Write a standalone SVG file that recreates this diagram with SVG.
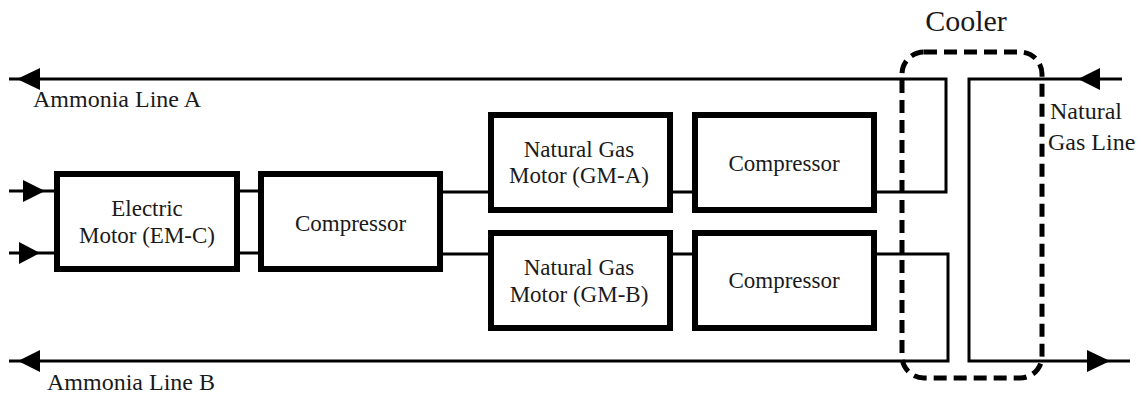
<svg xmlns="http://www.w3.org/2000/svg" width="1140" height="394" viewBox="0 0 1140 394">
<style>
.box{fill:#fff;stroke:#000;stroke-width:6}
.ln{fill:none;stroke:#000;stroke-width:3}
.ah{fill:#000}
.t{fill:#1a1a1a}
.c{text-anchor:middle}
.cool{fill:none;stroke:#000;stroke-width:5;stroke-dasharray:13 7}
</style>
<rect width="1140" height="394" fill="#fff"/>
<g id="connectors">
<path class="ln" d="M877 192 H946 V79 H9"/>
<path class="ln" d="M1122 79 H969 V361 H1130"/>
<path class="ln" d="M877 254 H948 V361 H9"/>
<path class="ln" d="M9 191 H57 M240 191 H258 M443 192 H491 M673 192 H692"/>
<path class="ln" d="M9 253 H57 M240 253 H258 M443 254 H491 M673 254 H692"/>
<polygon class="ah" points="17,79 40,68 40,90"/>
<polygon class="ah" points="18,361 40,350 40,372"/>
<polygon class="ah" points="45,191 23,180 23,202"/>
<polygon class="ah" points="40,253 19,242 19,264"/>
<polygon class="ah" points="1078,79 1100,68 1100,90"/>
<polygon class="ah" points="1110,361 1087,350 1087,372"/>
</g>
<g font-family="'Liberation Serif', 'Times New Roman', serif" font-size="23">
<g id="cooler">
<rect class="cool" x="902" y="52" width="140" height="326" rx="22"/>
<text class="t c" x="966" y="31" font-size="30">Cooler</text>
</g>
<g id="em-c">
<rect class="box" x="57" y="174" width="180" height="95"/>
<text class="t c" x="147" y="216">Electric</text>
<text class="t c" x="147" y="243">Motor (EM-C)</text>
</g>
<g id="comp-c">
<rect class="box" x="261" y="174" width="179" height="95"/>
<text class="t c" x="350.5" y="231">Compressor</text>
</g>
<g id="gm-a">
<rect class="box" x="491" y="115" width="179" height="95"/>
<text class="t c" x="579" y="157">Natural Gas</text>
<text class="t c" x="579" y="183">Motor (GM-A)</text>
</g>
<g id="comp-a">
<rect class="box" x="695" y="115" width="179" height="95"/>
<text class="t c" x="784" y="171">Compressor</text>
</g>
<g id="gm-b">
<rect class="box" x="491" y="233" width="179" height="95"/>
<text class="t c" x="579" y="275">Natural Gas</text>
<text class="t c" x="579" y="302">Motor (GM-B)</text>
</g>
<g id="comp-b">
<rect class="box" x="695" y="233" width="179" height="95"/>
<text class="t c" x="784" y="288">Compressor</text>
</g>
<g id="labels" font-size="24">
<text class="t" x="33" y="107">Ammonia Line A</text>
<text class="t" x="47" y="390">Ammonia Line B</text>
<text class="t" x="1050" y="119">Natural</text>
<text class="t" x="1048" y="150">Gas Line</text>
</g>
</g>
</svg>
